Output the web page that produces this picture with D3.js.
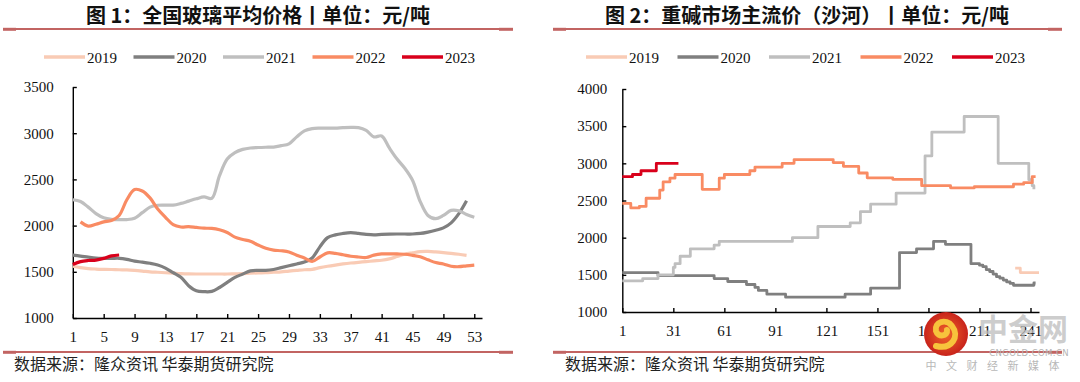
<!DOCTYPE html>
<html><head><meta charset="utf-8">
<script src="https://cdn.jsdelivr.net/npm/d3@7"></script>
<style>
body{margin:0;background:#fff;}
svg{display:block;}
</style></head><body>
<svg id="c" width="1080" height="382"></svg>
<script>
// ---------- shared ----------
const years = ["2019","2020","2021","2022","2023"];
const palette = ["#f9cbb5","#7f7f7f","#bfbfbf","#f98b63","#d9001b"];

// ---------- chart 1: glass average price, weekly ----------
const glassWeeks = d3.range(1, 55);
const glassXTicks = [1,5,9,13,17,21,25,29,33,37,41,45,49,53];
const glassYTicks = [1000,1500,2000,2500,3000,3500];
const glass2019 = [1560,1545,1535,1530,1527,1525,1522,1520,1515,1508,1500,1495,1490,1485,1480,1477,1476,1476,1476,1476,1476,1478,1480,1485,1488,1490,1495,1500,1508,1515,1522,1527,1545,1560,1573,1585,1595,1603,1610,1618,1625,1640,1665,1690,1705,1718,1720,1715,1708,1700,1690,1678];
const glass2020 = [1680,1670,1658,1648,1645,1645,1646,1635,1615,1605,1592,1573,1540,1490,1440,1350,1295,1285,1288,1330,1385,1440,1475,1510,1515,1515,1525,1545,1565,1585,1605,1650,1770,1870,1900,1915,1923,1915,1905,1900,1905,1908,1909,1909,1909,1915,1930,1950,1975,2030,2130,2270];
const glass2021 = [2280,2260,2200,2130,2085,2068,2065,2065,2080,2140,2200,2220,2222,2222,2240,2265,2290,2310,2295,2540,2720,2790,2825,2840,2845,2848,2850,2865,2885,2960,3025,3050,3055,3055,3055,3060,3063,3060,3030,2960,2970,2840,2720,2620,2490,2260,2110,2075,2110,2165,2160,2120,2090];
const glass2022 = [null,2040,1995,2015,2040,2055,2110,2280,2390,2375,2300,2180,2090,2010,1985,1988,1980,1972,1970,1955,1925,1875,1850,1830,1790,1755,1735,1728,1715,1680,1650,1612,1660,1705,1700,1685,1668,1660,1655,1680,1693,1695,1693,1690,1678,1662,1630,1600,1585,1560,1555,1565,1573];
const glass2023 = [1580,1610,1622,1627,1645,1672,1682];

// ---------- chart 2: heavy soda ash (Shahe), daily step series ----------
const sodaXTicks = [1,31,61,91,121,151,181,211,241];
const sodaYTicks = [1000,1500,2000,2500,3000,3500,4000];
const soda2019Days = [232,235,246];
const soda2019Vals = [1590,1530,1530];
const soda2020Days = [1,22,55,63,74,79,81,86,97,132,147,164,174,184,191,206,211,213,215,217,219,221,223,225,227,229,231,243,244];
const soda2020Vals = [1530,1490,1450,1410,1370,1330,1290,1240,1200,1240,1320,1800,1850,1950,1910,1650,1630,1610,1570,1545,1510,1475,1455,1430,1405,1385,1360,1390,1390];
const soda2021Days = [1,13,22,31,32,35,41,55,58,101,116,135,141,147,162,179,183,202,222,240,242,243];
const soda2021Vals = [1420,1450,1500,1600,1650,1750,1850,1900,1950,2000,2150,2200,2350,2450,2600,3100,3420,3630,3000,2780,2700,2650];
const soda2022Days = [1,6,11,15,23,25,29,32,48,58,61,76,79,95,102,125,131,140,145,160,177,194,208,231,237,242,244];
const soda2022Vals = [2460,2400,2420,2530,2640,2750,2800,2850,2650,2800,2850,2900,2950,3000,3050,3010,2960,2870,2805,2785,2700,2670,2685,2720,2740,2820,2820];
const soda2023Days = [1,7,12,21,34];
const soda2023Vals = [2820,2850,2900,3000,3000];

const svg = d3.select("#c");
const serif = "'Liberation Serif','Times New Roman',serif";
const cjk = "'Noto Sans CJK SC','Noto Sans',sans-serif";

function panelFrame(cfg) {
  // title
  svg.append("text").attr("x", cfg.titleX).attr("y", 22.5)
    .attr("text-anchor","middle").attr("font-family",cjk).attr("font-weight","bold")
    .attr("font-size",20).attr("fill","#111").text(cfg.title);
  // red rules
  [29, 352].forEach(y => {
    svg.append("line").attr("x1",cfg.x0).attr("x2",cfg.x1).attr("y1",y).attr("y2",y)
      .attr("stroke","#c26462").attr("stroke-width",2);
    svg.append("line").attr("x1",cfg.x0).attr("x2",cfg.x0+13).attr("y1",y+0.3).attr("y2",y+0.3)
      .attr("stroke","#c26462").attr("stroke-width",3);
    svg.append("line").attr("x1",cfg.x1-14).attr("x2",cfg.x1).attr("y1",y+0.3).attr("y2",y+0.3)
      .attr("stroke","#c26462").attr("stroke-width",3);
  });
  // source
  svg.append("text").attr("x",cfg.srcX).attr("y",370)
    .attr("font-family",cjk).attr("font-size",16).attr("fill","#222")
    .text("数据来源：隆众资讯 华泰期货研究院");
  // legend
  years.forEach((yr,i) => {
    const lx = cfg.legX + i*cfg.legStep;
    svg.append("line").attr("x1",lx).attr("x2",lx+41).attr("y1",57).attr("y2",57)
      .attr("stroke",palette[i]).attr("stroke-width",3.5);
    svg.append("text").attr("x",lx+43).attr("y",62.5)
      .attr("font-family",serif).attr("font-size",15).attr("fill","#111").text(yr);
  });
}

function axes(x, y, xTicks, yTicks, padY) {
  const gx = svg.append("g").attr("transform",`translate(0,${y.range()[0]})`)
    .call(d3.axisBottom(x).tickValues(xTicks).tickSizeInner(-4).tickSizeOuter(0).tickPadding(13.5).tickFormat(d3.format("d")));
  const gy = svg.append("g").attr("transform",`translate(${x.range()[0]},0)`)
    .call(d3.axisLeft(y).tickValues(yTicks).tickSizeInner(-4).tickSizeOuter(0).tickPadding(padY).tickFormat(d3.format("d")));
  [gx,gy].forEach(g => {
    g.select(".domain").attr("stroke","#000").attr("stroke-width",1.4);
    g.selectAll(".tick line").attr("stroke","#000").attr("stroke-width",1.4);
    g.selectAll(".tick text").attr("font-family",serif).attr("font-size",15).attr("fill","#111");
  });
}

// ---------- panel 1 ----------
panelFrame({title:"图 1：全国玻璃平均价格丨单位：元/吨", titleX:258, x0:3, x1:513, srcX:14, legX:44, legStep:89.5});
const x1 = d3.scaleLinear().domain([1,54]).range([72.8,482]);
const y1 = d3.scaleLinear().domain([1000,3500]).range([318,87]);
axes(x1, y1, glassXTicks, glassYTicks, 19);
const glassSeries = [glass2019, glass2020, glass2021, glass2022, glass2023];
const line1 = d3.line().defined(d => d[1] != null)
  .x(d => x1(d[0])).y(d => y1(d[1])).curve(d3.curveCatmullRom.alpha(0.5));
glassSeries.forEach((s,i) => {
  const pts = s.map((v,j) => [glassWeeks[j], v]);
  svg.append("path").attr("d", line1(pts)).attr("fill","none")
    .attr("stroke",palette[i]).attr("stroke-width",3.2).attr("stroke-linejoin","round");
});

// ---------- panel 2 ----------
panelFrame({title:"图 2：重碱市场主流价（沙河）丨单位：元/吨", titleX:807, x0:553, x1:1062, srcX:565, legX:586, legStep:91.5});
const x2 = d3.scaleLinear().domain([1,246]).range([622.3,1039]);
const y2 = d3.scaleLinear().domain([1000,4000]).range([312,89]);
axes(x2, y2, sodaXTicks, sodaYTicks, 15);
const sodaSeries = [
  [soda2019Days, soda2019Vals],[soda2020Days, soda2020Vals],[soda2021Days, soda2021Vals],
  [soda2022Days, soda2022Vals],[soda2023Days, soda2023Vals]];
const line2 = d3.line().x(d => x2(d[0])).y(d => y2(d[1])).curve(d3.curveStepAfter);
sodaSeries.forEach(([days, vals], i) => {
  const pts = days.map((dd,j) => [dd, vals[j]]);
  svg.append("path").attr("d", line2(pts)).attr("fill","none")
    .attr("stroke",palette[i]).attr("stroke-width",2.8).attr("stroke-linejoin","round");
});

// ---------- watermark ----------
const wm = svg.append("g");
const grad = svg.append("defs").append("radialGradient").attr("id","wmg");
grad.append("stop").attr("offset","0%").attr("stop-color","#f0662a");
grad.append("stop").attr("offset","100%").attr("stop-color","#c8231b");
wm.append("circle").attr("cx",946).attr("cy",334).attr("r",22).attr("fill","url(#wmg)");
wm.append("path").attr("d","M936,346 C952,350 960,336 952,326 C946,318 934,322 936,331 C938,338 948,336 947,330")
  .attr("fill","none").attr("stroke","#f7c33c").attr("stroke-width",6).attr("stroke-linecap","round");
wm.append("text").attr("x",1068).attr("y",340).attr("text-anchor","end")
  .attr("font-family",cjk).attr("font-weight","bold").attr("font-size",30)
  .attr("fill","#bdbdbd").attr("fill-opacity",0.75).text("中金网");
wm.append("text").attr("x",1069).attr("y",356).attr("text-anchor","end")
  .attr("font-family","'DejaVu Sans',sans-serif").attr("font-size",8.5)
  .attr("fill","#b5b5b5").attr("letter-spacing",0.4).text("CNGOLD.COM.CN");
wm.append("text").attr("x",1069).attr("y",370).attr("text-anchor","end")
  .attr("font-family",cjk).attr("font-size",11).attr("letter-spacing",9.5)
  .attr("fill","#b8b8b8").text("中文财经新媒体");
</script>
</body></html>
